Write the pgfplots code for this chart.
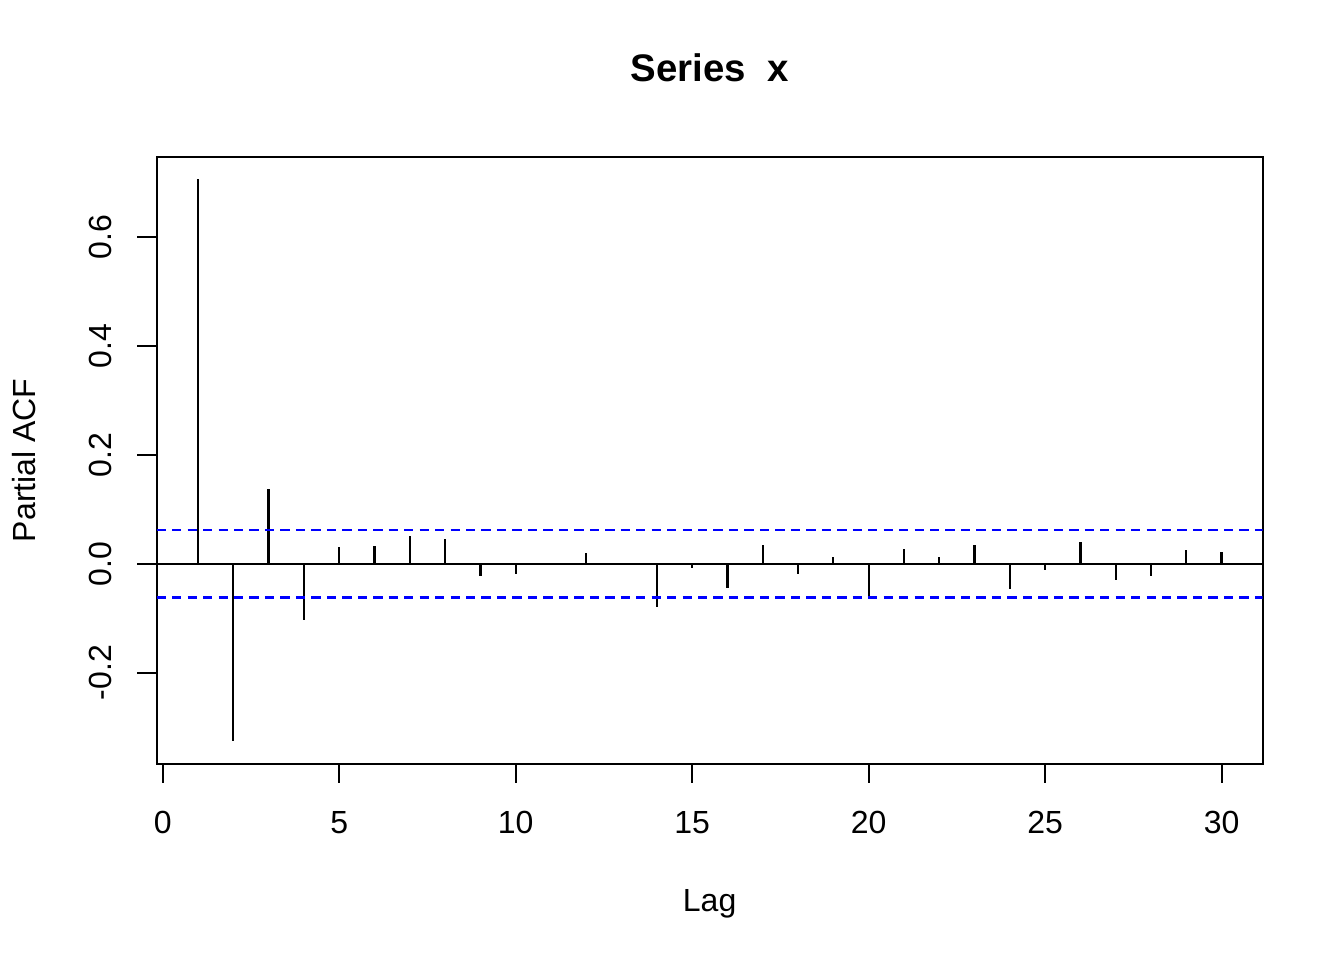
\documentclass[border=0pt]{standalone}
\usepackage{pgfplots}
\pgfplotsset{compat=1.18}
\usepackage{fontspec}
\setmainfont{Liberation Sans}
\begin{document}
\begin{tikzpicture}
\path[use as bounding box] (0,0) rectangle (504pt,360pt);
\begin{axis}[
  at={(58.76pt,73.6pt)}, anchor=south west,
  scale only axis, width=414.7pt, height=227.6pt,
  xmin=-0.17, xmax=31.16, ymin=-0.367, ymax=0.747,
  axis line style={line width=0.75pt},
  tick pos=left, tick align=outside, major tick length=7.2pt,
  tick style={line width=0.75pt, black},
  xtick={0,5,10,15,20,25,30},
  xticklabels={0,5,10,15,20,25,30},
  ytick={-0.2,0,0.2,0.4,0.6},
  yticklabels={-0.2,0.0,0.2,0.4,0.6},
  xticklabel style={anchor=base, inner sep=0pt, yshift=-19.1pt, font=\fontsize{12}{14}\selectfont},
  yticklabel style={anchor=base, inner sep=0pt, xshift=-9.7pt, rotate=90, font=\fontsize{12}{14}\selectfont},
  every axis x label/.style={at={(axis description cs:0.5,0)}, anchor=base, yshift=-55.4pt, font=\fontsize{12}{14}\selectfont},
  every axis y label/.style={at={(axis description cs:0,0.5)}, xshift=-45.3pt, rotate=90, anchor=base, font=\fontsize{12}{14}\selectfont},
  every axis title/.style={at={(axis description cs:0.5,1)}, anchor=base, yshift=28.3pt, font=\bfseries\fontsize{14.4}{17}\selectfont},
  xlabel={Lag}, ylabel={Partial ACF}, title={Series~~x},
]
\addplot[ycomb, black, line width=0.85pt, mark=none] coordinates {
(1,0.706) (2,-0.325) (3,0.138) (4,-0.103) (5,0.031) (6,0.033) (7,0.051) (8,0.046)
(9,-0.022) (10,-0.018) (11,0.002) (12,0.0205) (13,-0.002) (14,-0.080) (15,-0.008)
(16,-0.045) (17,0.034) (18,-0.018) (19,0.013) (20,-0.062) (21,0.028) (22,0.012)
(23,0.034) (24,-0.047) (25,-0.012) (26,0.040) (27,-0.030) (28,-0.022) (29,0.025) (30,0.021)
};
\addplot[black, line width=0.8pt, mark=none] coordinates {(-0.17,0) (31.16,0)};
\addplot[blue, line width=0.8pt, mark=none, dash pattern=on 3.5pt off 2.3pt] coordinates {(-0.17,0.062) (31.16,0.062)};
\addplot[blue, line width=0.8pt, mark=none, dash pattern=on 3.5pt off 2.3pt] coordinates {(-0.17,-0.062) (31.16,-0.062)};
\end{axis}
\end{tikzpicture}
\end{document}
